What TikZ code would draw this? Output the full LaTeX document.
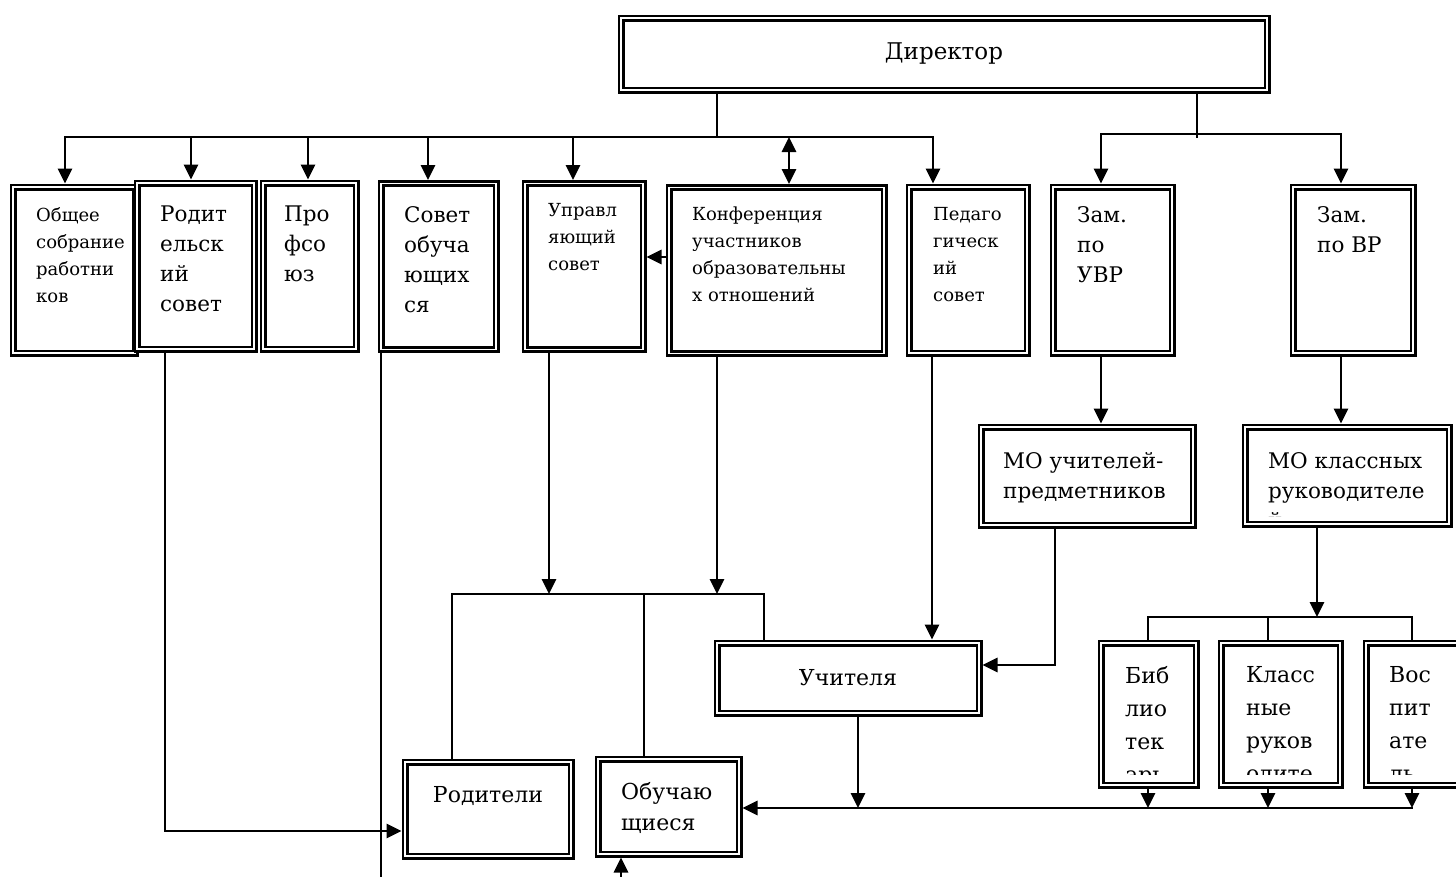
\documentclass[tikz,border=0pt]{standalone}
\usepackage{fontspec}
\setmainfont{DejaVu Serif}
\usetikzlibrary{arrows.meta}

\tikzset{
  box/.style={draw, double, line width=2.6pt, double distance=1.8pt,
    inner sep=0pt, outer sep=3.5pt},
  bigtxt/.style={font=\fontsize{21.5pt}{30pt}\selectfont,
    align=left, inner sep=0pt, anchor=north west},
  smalltxt/.style={font=\fontsize{18pt}{27pt}\selectfont,
    align=left, inner sep=0pt, anchor=north west},
  stafftxt/.style={font=\fontsize{22pt}{33pt}\selectfont,
    align=left, inner sep=0pt, anchor=north west},
  link/.style={line width=2.8pt, line cap=rect},
  arr/.style={link, -{Triangle[length=15pt,width=14pt]}},
  arrs/.style={link, {Triangle[length=15pt,width=14pt]}-{Triangle[length=15pt,width=14pt]}}
}

\begin{document}
\begin{tikzpicture}[x=1pt, y=-1pt]

    % Fix page size
    \useasboundingbox (0,0) rectangle (1456,876);
    \clip (0,0) rectangle (1456,876);

    % Draw top box
    \node[box, minimum width=646pt, minimum height=72pt,
      font=\fontsize{23pt}{28pt}\selectfont] (dir) at (944,54) {Директор};

    % Draw first row of boxes
    \foreach \n/\x/\y/\w in {obsh/74/270/122pt, rodsov/195.5/266/117pt,
      prof/309.5/266/93pt, sovob/438.5/266.5/115pt, upr/584/266.5/118pt,
      konf/776.5/270.5/215pt, ped/968/270/118pt, zuvr/1112.5/270/119pt,
      zvr/1353/270/120pt}{
        \node[box, minimum width=\w, minimum height=166pt] (\n) at (\x,\y) {};
    }

    % Write first row texts
    \node[smalltxt] (tobsh) at (36,207) {Общее\\собрание\\работни\\ков};
    \node[bigtxt] (trodsov) at (160,206) {Родит\\ельск\\ий\\совет};
    \node[bigtxt] (tprof) at (284,206) {Про\\фсо\\юз};
    \node[bigtxt] (tsovob) at (404,206) {Совет\\обуча\\ющих\\ся};
    \node[smalltxt] (tupr) at (548,203) {Управл\\яющий\\совет};
    \node[smalltxt] (tkonf) at (692,207)
      {Конференция\\участников\\образовательны\\х отношений};
    \node[smalltxt] (tped) at (933,207) {Педаго\\гическ\\ий\\совет};
    \node[bigtxt] (tzuvr) at (1077,206) {Зам.\\по\\УВР};
    \node[bigtxt] (tzvr) at (1317,206) {Зам.\\по ВР};

    % Draw second row of boxes
    \node[box, minimum width=212pt, minimum height=98pt] (mou) at (1087,476) {};
    \node[box, minimum width=204pt, minimum height=97pt] (mok) at (1347,475.5) {};
    \node[bigtxt] (tmou) at (1003,452) {МО учителей-\\предметников};

    % Draw lower boxes
    \node[box, minimum width=262pt, minimum height=70pt,
      font=\fontsize{22pt}{30pt}\selectfont] (uch) at (848,678) {Учителя};
    \node[box, minimum width=166pt, minimum height=94pt] (rod) at (488,809) {};
    \node[box, minimum width=141pt, minimum height=95pt] (obuch) at (668.5,806.5) {};
    \node[font=\fontsize{22pt}{30pt}\selectfont] (trod) at (488,796) {Родители};
    \node[stafftxt, font=\fontsize{22pt}{31pt}\selectfont] (tobuch) at (621,782)
      {Обучаю\\щиеся};

    \foreach \n/\x/\w in {bib/1148.5/95pt, kl/1280.5/119pt, vos/1433/134pt}{
      \node[box, minimum width=\w, minimum height=142pt] (\n) at (\x,714) {};
    }

    % Texts that are cut by their boxes
    \begin{scope}
      \clip (1241,420) rectangle (1456,516);
      \node[bigtxt] (tmok) at (1268,452) {МО классных\\руководителе\\й};
    \end{scope}
    \begin{scope}
      \clip (1097,640) rectangle (1456,774);
      \node[stafftxt] (tbib) at (1125,666) {Биб\\лио\\тек\\арь};
      \node[stafftxt] (tkl) at (1246,666) {Класс\\ные\\руков\\одите};
      \node[stafftxt] (tvos) at (1389,666) {Вос\\пит\\ате\\ль};
    \end{scope}

    % Connect director with first row
    \draw[link] (dir.south -| 717,0) -- (717,137);
    \draw[link] (65,137) -- (933,137);
    \foreach \x/\n in {65/obsh, 191/rodsov, 308/prof, 428/sovob, 573/upr, 933/ped}{
      \draw[arr] (\x,137) -- (\n.north -| \x,0);
    }
    \draw[arrs] (789,137) -- (konf.north -| 789,0);

    \draw[link] (dir.south -| 1197,0) -- (1197,137);
    \draw[link] (1101,134) -- (1341,134);
    \foreach \x/\n in {1101/zuvr, 1341/zvr}{
      \draw[arr] (\x,134) -- (\n.north -| \x,0);
    }
    \draw[arr] (konf.west |- 0,257) -- (upr.east |- 0,257);

    % Connect first row with lower boxes
    \draw[arr] (upr.south -| 549,0) -- (549,594);
    \draw[arr] (konf.south -| 717,0) -- (717,594);
    \draw[link] (452,594) -- (764,594);
    \foreach \x/\n in {452/rod, 644/obuch, 764/uch}{
      \draw[link] (\x,594) -- (\n.north -| \x,0);
    }
    \draw[arr] (ped.south -| 932,0) -- (uch.north -| 932,0);
    \draw[arr] (zuvr.south -| 1101,0) -- (mou.north -| 1101,0);
    \draw[arr] (zvr.south -| 1341,0) -- (mok.north -| 1341,0);
    \draw[arr] (mou.south -| 1055,0) |- (uch.east |- 0,665);

    % Connect MO with staff
    \draw[arr] (mok.south -| 1317,0) -- (1317,617);
    \draw[link] (1148,617) -- (1412,617);
    \foreach \x/\n in {1148/bib, 1268/kl, 1412/vos}{
      \draw[link] (\x,617) -- (\n.north -| \x,0);
      \draw[arr] (\n.south -| \x,0) -- (\x,808);
    }

    % Connect to students and parents
    \draw[arr] (uch.south -| 858,0) -- (858,808);
    \draw[arr] (1412,808) -- (obuch.east |- 0,808);
    \draw[arr] (rodsov.south -| 165,0) |- (rod.west |- 0,831);
    \draw[link] (sovob.south -| 381,0) -- (381,880);
    \draw[arr] (621,880) -- (obuch.south -| 621,0);

  \end{tikzpicture}
\end{document}
